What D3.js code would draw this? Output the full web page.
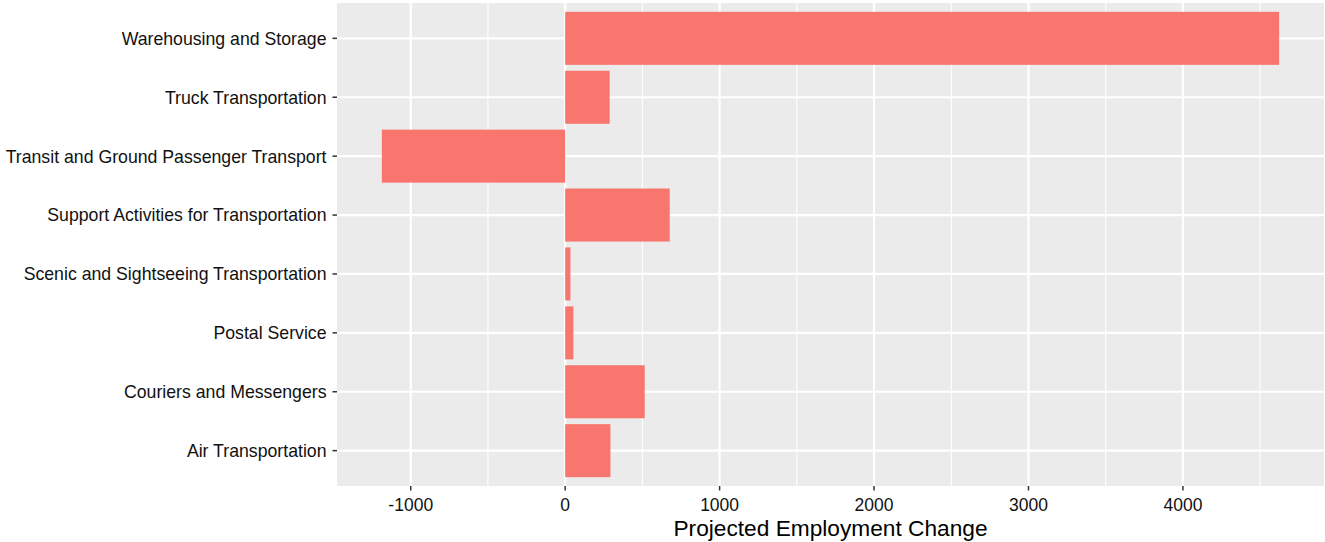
<!DOCTYPE html>
<html><head><meta charset="utf-8">
<script src="https://cdn.jsdelivr.net/npm/d3@7"></script>
<style>body{margin:0;background:#fff;}svg{display:block;font-family:"Liberation Sans",Arial,sans-serif;}</style>
</head><body><svg id="c" width="1325" height="542"></svg>
<script>
const categories = ["Warehousing and Storage","Truck Transportation","Transit and Ground Passenger Transport","Support Activities for Transportation","Scenic and Sightseeing Transportation","Postal Service","Couriers and Messengers","Air Transportation"];
const values = [4623, 288, -1187, 677, 34, 53, 515, 293];
const xTicks = [-1000, 0, 1000, 2000, 3000, 4000];
const xMinor = [-1500, -500, 500, 1500, 2500, 3500, 4500];
const xTitle = "Projected Employment Change";

const svg = d3.select("#c");
const L = 337, R = 1324, T = 3, B = 486;
const lo = d3.min(values), hi = d3.max(values), pad = (hi - lo) * 0.05;
const x = d3.scaleLinear().domain([lo - pad, hi + pad]).range([L, R]);
const n = categories.length;
const y = d3.scaleLinear().domain([0.4, n + 0.6]).range([T, B]);
const yPos = (i) => y(i + 1);

svg.append("rect").attr("x", L).attr("y", T).attr("width", R - L).attr("height", B - T).attr("fill", "#EBEBEB");
const g = svg.append("g");
g.selectAll(".minor").data(xMinor.filter(v => x(v) > L && x(v) < R)).join("line")
  .attr("x1", d => x(d)).attr("x2", d => x(d)).attr("y1", T).attr("y2", B)
  .attr("stroke", "#fff").attr("stroke-width", 1.1);
g.selectAll(".major").data(xTicks).join("line")
  .attr("x1", d => x(d)).attr("x2", d => x(d)).attr("y1", T).attr("y2", B)
  .attr("stroke", "#fff").attr("stroke-width", 2.2);
g.selectAll(".hmaj").data(categories).join("line")
  .attr("x1", L).attr("x2", R).attr("y1", (d, i) => yPos(i)).attr("y2", (d, i) => yPos(i))
  .attr("stroke", "#fff").attr("stroke-width", 2.2);

const bw = y(1.45) - y(1);
svg.selectAll(".bar").data(values).join("rect")
  .attr("x", d => x(Math.min(0, d))).attr("width", d => Math.abs(x(d) - x(0)))
  .attr("y", (d, i) => yPos(i) - bw).attr("height", bw * 2)
  .attr("fill", "#F8766D");

const ya = svg.append("g");
categories.forEach((c, i) => {
  ya.append("line").attr("x1", L - 4.5).attr("x2", L).attr("y1", yPos(i)).attr("y2", yPos(i)).attr("stroke", "#333").attr("stroke-width", 1.5);
  ya.append("text").attr("x", L - 10.5).attr("y", yPos(i)).attr("dy", "0.36em").attr("text-anchor", "end")
    .attr("font-size", 17.7).attr("fill", "#111").text(c);
});
const xa = svg.append("g");
xTicks.forEach(t => {
  xa.append("line").attr("x1", x(t)).attr("x2", x(t)).attr("y1", B).attr("y2", B + 4.5).attr("stroke", "#333").attr("stroke-width", 1.5);
  xa.append("text").attr("x", x(t)).attr("y", B + 24.5).attr("text-anchor", "middle")
    .attr("font-size", 17.5).attr("fill", "#111").text(String(t));
});
svg.append("text").attr("x", (L + R) / 2).attr("y", 535.5).attr("text-anchor", "middle")
  .attr("font-size", 22.7).attr("fill", "#000").text(xTitle);
</script></body></html>
